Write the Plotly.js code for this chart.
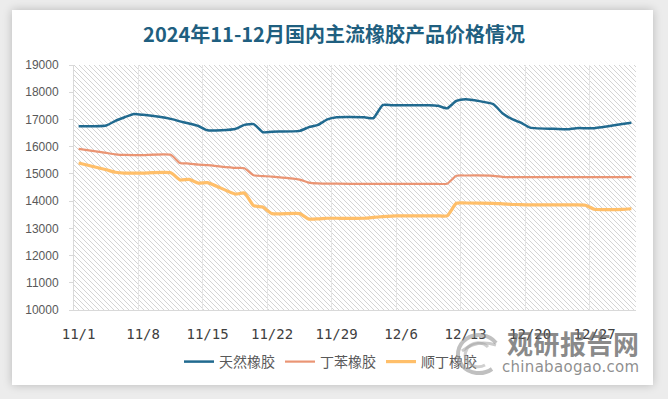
<!DOCTYPE html>
<html>
<head>
<meta charset="utf-8">
<script src="https://cdn.plot.ly/plotly-3.0.1.min.js"></script>
<style>
  html, body { margin:0; padding:0; width:668px; height:399px; overflow:hidden; background:#ececec; }
  #card { position:absolute; left:12px; top:10px; width:641px; height:375px; background:#ffffff;
          box-shadow: 0 0 9px rgba(0,0,0,0.22); }
  #hatch { position:absolute; left:74px; top:65px; width:562px; height:245px; background-color:#ffffff;
           background-image:url("data:image/svg+xml,%3Csvg xmlns='http://www.w3.org/2000/svg' width='5' height='5'%3E%3Cpath d='M0 0L5 5M-1 4L1 6M4 -1L6 1' stroke='%23cfcfcf' stroke-width='0.9'/%3E%3C/svg%3E");
           background-size:5px 5px; }
  #chart { position:absolute; left:0; top:0; width:668px; height:399px; }
  #wm { position:absolute; left:452px; top:329px; width:190px; height:50px; pointer-events:none; }
  #wm .big { position:absolute; left:55px; top:0px; font-family:"Noto Sans CJK SC"; font-weight:bold;
             font-size:26px; line-height:28px; color:rgba(100,100,100,0.75); letter-spacing:0.5px; }
  #wm .small { position:absolute; left:50px; top:29px; font-family:"DejaVu Sans"; font-size:15px;
               line-height:18px; color:rgba(105,105,105,0.75); letter-spacing:0.3px; }
  #wm svg { position:absolute; left:0; top:2px; }
</style>
</head>
<body>
<div id="card"></div>
<div id="hatch"></div>
<div id="chart"></div>
<div id="wm">
  <svg width="50" height="46" viewBox="0 0 50 46">
    <path d="M44 12 A21 19 0 1 0 40 38" fill="none" stroke="rgba(150,150,150,0.6)" stroke-width="4"/>
    <path d="M36 16 A13 12 0 1 0 33 34" fill="none" stroke="rgba(170,170,170,0.55)" stroke-width="3"/>
    <path d="M10 20 Q25 8 44 14" fill="none" stroke="rgba(160,160,160,0.55)" stroke-width="3"/>
  </svg>
  <div class="big">观研报告网</div>
  <div class="small">chinabaogao.com</div>
</div>
<script>
// ---- data ----
const dates = ['2024-11-01','2024-11-04','2024-11-05','2024-11-06','2024-11-07','2024-11-08',
  '2024-11-11','2024-11-12','2024-11-13','2024-11-14','2024-11-15',
  '2024-11-18','2024-11-19','2024-11-20','2024-11-21','2024-11-22',
  '2024-11-25','2024-11-26','2024-11-27','2024-11-28','2024-11-29',
  '2024-12-02','2024-12-03','2024-12-04','2024-12-05','2024-12-06',
  '2024-12-09','2024-12-10','2024-12-11','2024-12-12','2024-12-13',
  '2024-12-16','2024-12-17','2024-12-18','2024-12-19','2024-12-20',
  '2024-12-23','2024-12-24','2024-12-25','2024-12-26','2024-12-27',
  '2024-12-30','2024-12-31'];

const naturalRubber = [16750,16780,16950,17080,17200,17170,
  17020,16930,16850,16760,16600,
  16650,16800,16830,16530,16550,
  16580,16720,16800,17000,17080,
  17080,17050,17530,17520,17520,
  17520,17500,17410,17680,17740,
  17560,17230,17020,16880,16700,
  16650,16640,16680,16680,16680,
  16830,16880];

const sbrRubber = [15920,15770,15720,15695,15690,15690,
  15700,15400,15380,15340,15320,
  15220,15210,14950,14920,14900,
  14790,14680,14650,14640,14640,
  14630,14630,14630,14630,14630,
  14630,14630,14640,14930,14940,
  14930,14890,14880,14880,14880,
  14880,14880,14880,14880,14880,
  14880,14880];

const brRubber = [15400,15150,15060,15030,15030,15030,
  15040,14780,14800,14660,14680,
  14260,14300,13830,13780,13540,
  13540,13340,13350,13370,13370,
  13370,13400,13430,13450,13460,
  13460,13460,13460,13920,13930,
  13920,13900,13880,13870,13860,
  13860,13860,13860,13850,13700,
  13700,13720];

const seriesNames = ['天然橡胶','丁苯橡胶','顺丁橡胶'];
const tickDates = ['2024-11-01','2024-11-08','2024-11-15','2024-11-22','2024-11-29','2024-12-06','2024-12-13','2024-12-20','2024-12-27'];
const tickLabels = ['11/1','11/8','11/15','11/22','11/29','12/6','12/13','12/20','12/27'];
const yTicks = [10000,11000,12000,13000,14000,15000,16000,17000,18000,19000];

// ---- chart ----
const colors = ['#216a8f','#ea9574','#ffbf6a'];
const widths = [2.5, 2.2, 3.2];
const vals = [naturalRubber, sbrRubber, brRubber];

const traces = vals.map((v,i)=>({
  type:'scatter', mode:'lines', x:dates, y:v, name:seriesNames[i],
  line:{color:colors[i], width:widths[i], shape:'spline', smoothing:0.5},
  hoverinfo:'skip'
}));

const layout = {
  width:668, height:399,
  margin:{l:74, r:32, t:65, b:89, pad:0},
  paper_bgcolor:'rgba(0,0,0,0)', plot_bgcolor:'rgba(0,0,0,0)',
  title:{text:'2024年11-12月国内主流橡胶产品价格情况', xref:'container', x:0.5, xanchor:'center',
         yref:'container', y:1-35/399, yanchor:'middle',
         font:{family:'Noto Sans CJK SC', size:20, color:'#1f5f80', weight:'bold'}},
  xaxis:{type:'date', range:['2024-10-31 12:00','2024-12-31 12:00'],
         tickmode:'array', tickvals:tickDates, ticktext:tickLabels,
         showgrid:false, zeroline:false,
         showline:true, linecolor:'#d9d9d9', linewidth:1,
         ticks:'', ticklabelstandoff:11,
         tickfont:{family:'DejaVu Sans Mono', size:14, color:'#404040'},
         minor:{tick0:'2024-10-31 12:00', dtick:7*86400000, showgrid:true, gridcolor:'#e4e4e4', gridwidth:1, ticks:''}},
  yaxis:{range:[10000,19000], tickmode:'array', tickvals:yTicks, tickformat:'d',
         showgrid:false, zeroline:false,
         showline:true, linecolor:'#d9d9d9', linewidth:1,
         ticks:'outside', ticklen:4, tickcolor:'#d9d9d9', ticklabelstandoff:8,
         tickfont:{family:'Liberation Sans', size:12, color:'#595959'}},
  showlegend:true,
  legend:{orientation:'h', xref:'container', yref:'container', x:179/668, xanchor:'left',
          y:1-362/399, yanchor:'middle', bgcolor:'rgba(0,0,0,0)',
          font:{family:'Noto Sans CJK SC', size:14, color:'#595959'},
          itemwidth:30, traceorder:'normal'}
};

Plotly.newPlot('chart', traces, layout, {staticPlot:true, displayModeBar:false});
</script>
</body>
</html>
